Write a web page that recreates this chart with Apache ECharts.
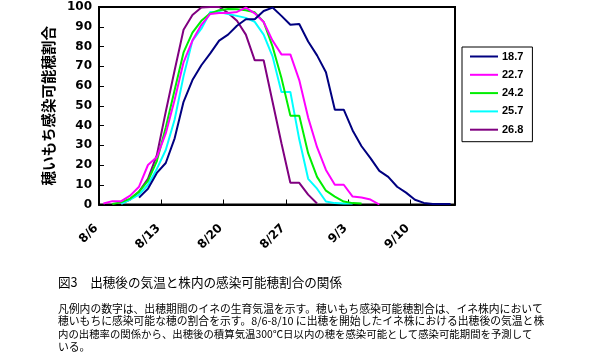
<!DOCTYPE html>
<html>
<head>
<meta charset="utf-8">
<script src="https://cdn.jsdelivr.net/npm/echarts@6/dist/echarts.min.js"></script>
<style>
html,body{margin:0;padding:0;background:#fff;}
#c{width:595px;height:359px;}
</style>
</head>
<body>
<div id="c"></div>
<script>
// x tick labels (every 7 days, starting 8/6); daily points from 8/6 to 9/14
const tickLabels = ['8/6', '8/13', '8/20', '8/27', '9/3', '9/10'];
const seriesNames = ['18.7', '22.7', '24.2', '25.7', '26.8'];
const seriesColors = ['#000080', '#ff00ff', '#00ee00', '#00ffff', '#800080'];

// values by day index 0..39 (0 = 8/6), null = no data
const s187 = [null, null, null, null, 3.5, 8, 16, 21, 33.5, 52, 63, 70.5, 76.5, 83, 86, 90.5, 93.8, 93.8, 98, 99.7,
              95.5, 91, 91.4, 82.5, 75.5, 67, 48, 48, 37.5, 29.5, 23.5, 17, 14, 9, 6, 2.4, 0.8, 0.3, 0.3, 0.3];
const s227 = [0.5, 1.7, 1.7, 4.5, 9, 20, 24, 36, 53, 72, 83, 91, 96.5, 97, 97, 97.5, 99.7, 96.8, 92.4, 83,
              76, 76, 63, 44, 29, 17.5, 10, 10, 4, 3.5, 2.5, 0, null, null, null, null, null, null, null, null];
const s242 = [null, 0.3, 1.2, 3, 6.5, 12, 22, 39, 58, 77, 87, 93, 96.8, 98.4, 99, 98.8, 98.4, 97.3, 92.5, 80,
              64, 45, 45, 26, 14, 7, 4, 1.5, 0.7, 0.5, null, null, null, null, null, null, null, null, null, null];
const s257 = [null, null, 0.3, 2.5, 5, 10, 18, 27.6, 43, 65, 83, 89, 97.5, 97.5, 96.5, 95.5, 94.5, 92.5, 86, 75,
              57, 57, 33, 13, 8, 1.5, 0.7, 0.5, 0.5, null, null, null, null, null, null, null, null, null, null, null];
const s268 = [null, null, 0.5, 2.5, 6.5, 13, 25, 47, 68, 88.5, 96, 99.7, 100, 100, 97, 93, 86, 73, 73, 52,
              31, 11, 11, 5, 0.5, null, null, null, null, null, null, null, null, null, null, null, null, null, null, null];

const allSeries = [s187, s227, s242, s257, s268];

function toPoints(arr) {
  const out = [];
  arr.forEach((v, i) => { if (v !== null) out.push([i + 0.5, v]); });
  return out;
}

const chart = echarts.init(document.getElementById('c'), null, {renderer: 'canvas'});
const axisFont = 'DejaVu Sans';
const cjk = '"Noto Sans CJK JP"';

const option = {
  animation: false,
  backgroundColor: '#fff',
  grid: {
    left: 99, right: 140, top: 7, bottom: 154.5,
    show: true, borderColor: '#000', borderWidth: 2, backgroundColor: 'transparent',
    outerBoundsMode: 'none'
  },
  xAxis: {
    type: 'value', min: 0, max: 40, interval: 7,
    axisLine: {show: true, lineStyle: {color: '#000', width: 2}},
    axisTick: {show: true, inside: true, length: 5, lineStyle: {color: '#000', width: 1}},
    axisLabel: {
      rotate: 45, margin: 19, padding: [0, 4, 0, 0], color: '#000', fontFamily: axisFont, fontWeight: 'bold', fontSize: 12,
      formatter: v => (v % 7 === 0 && tickLabels[v / 7] !== undefined) ? tickLabels[v / 7] : ''
    },
    splitLine: {show: false}
  },
  yAxis: {
    type: 'value', min: 0, max: 100, interval: 10,
    name: '穂いもち感染可能穂割合', nameLocation: 'middle', nameRotate: 90, nameGap: 36,
    nameTextStyle: {fontFamily: 'Noto Sans CJK JP', fontSize: 14.5, fontWeight: 'bold', color: '#000'},
    axisLine: {show: true, lineStyle: {color: '#000', width: 2}},
    axisTick: {show: true, inside: true, length: 5, lineStyle: {color: '#000', width: 1}},
    axisLabel: {color: '#000', fontFamily: axisFont, fontWeight: 'bold', fontSize: 12, margin: 7},
    splitLine: {show: false}
  },
  legend: {
    data: seriesNames,
    orient: 'vertical', left: 462, top: 47,
    itemWidth: 28, itemHeight: 12, itemGap: 7.3,
    padding: [4, 9, 6.5, 7],
    borderColor: '#000', borderWidth: 1,
    itemStyle: {opacity: 0},
    lineStyle: {width: 2},
    textStyle: {fontFamily: 'Liberation Sans', fontWeight: 'bold', fontSize: 11, color: '#000', padding: [0, 0, 0, -1]}
  },
  series: allSeries.map((arr, k) => ({
    name: seriesNames[k],
    type: 'line',
    data: toPoints(arr),
    symbol: 'none',
    showSymbol: false,
    lineStyle: {color: seriesColors[k], width: 2},
    itemStyle: {color: seriesColors[k]},
    z: 10 - k
  })),
  graphic: [
    {type: 'text', style: {x: 58, y: 282.5, text: '図3　出穂後の気温と株内の感染可能穂割合の関係', font: '12.6px ' + cjk, fill: '#000', verticalAlign: 'middle', align: 'left'}},
    {type: 'text', style: {x: 58, y: 308.5, text: '凡例内の数字は、出穂期間のイネの生育気温を示す。穂いもち感染可能穂割合は、イネ株内において', font: '10.8px ' + cjk, fill: '#000', verticalAlign: 'middle', align: 'left'}},
    {type: 'text', style: {x: 58, y: 321.3, text: '穂いもちに感染可能な穂の割合を示す。8/6-8/10 に出穂を開始したイネ株における出穂後の気温と株', font: '10.8px ' + cjk, fill: '#000', verticalAlign: 'middle', align: 'left'}},
    {type: 'text', style: {x: 58, y: 334.5, text: '内の出穂率の関係から、出穂後の積算気温300℃日以内の穂を感染可能として感染可能期間を予測して', font: '10.4px ' + cjk, fill: '#000', verticalAlign: 'middle', align: 'left'}},
    {type: 'text', style: {x: 58, y: 347.3, text: 'いる。', font: '10.8px ' + cjk, fill: '#000', verticalAlign: 'middle', align: 'left'}}
  ]
};
chart.setOption(option);
</script>
</body>
</html>
